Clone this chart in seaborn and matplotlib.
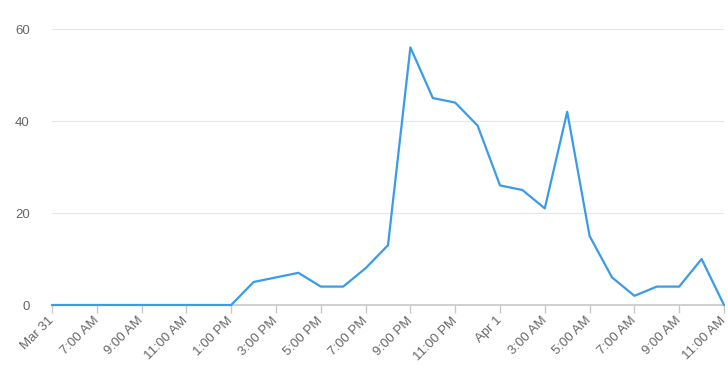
import matplotlib
matplotlib.use("Agg")
import matplotlib.pyplot as plt
import seaborn as sns
import pandas as pd

hours = list(range(31))  # hourly points starting at the "Mar 31" tick
values = [0, 0, 0, 0, 0, 0, 0, 0, 0,
          5, 6, 7, 4, 4, 8, 13, 56, 45, 44,
          39, 26, 25, 21, 42, 15, 6, 2, 4, 4, 10, 0]
tick_hours = list(range(0, 31, 2))
tick_labels = ["Mar 31", "7:00 AM", "9:00 AM", "11:00 AM", "1:00 PM", "3:00 PM",
               "5:00 PM", "7:00 PM", "9:00 PM", "11:00 PM", "Apr 1", "3:00 AM",
               "5:00 AM", "7:00 AM", "9:00 AM", "11:00 AM"]
y_ticks = [0, 20, 40, 60]

df = pd.DataFrame({"hour": hours, "value": values})

sns.set_theme(style="white")
plt.rcParams["font.family"] = ["Liberation Sans", "DejaVu Sans"]

fig = plt.figure(figsize=(7.28, 3.72), dpi=100)
ax = fig.add_axes([52 / 728, 1 - 305 / 372, (724 - 52) / 728, (305 - 29) / 372])

sns.lineplot(data=df, x="hour", y="value", ax=ax, color="#3a9beb", linewidth=1.6,
             clip_on=False)

ax.set_xlim(0, 30)
ax.set_ylim(0, 60)
ax.set_yticks(y_ticks)
ax.set_yticklabels([str(v) for v in y_ticks])
ax.set_xticks(tick_hours)
ax.set_xticklabels(tick_labels, rotation=45, ha="right", va="center",
                   rotation_mode="anchor")

ax.grid(axis="y", color="#e6e6e6", linewidth=0.8)
ax.grid(axis="x", visible=False)
ax.set_axisbelow(True)
for side in ["top", "right", "left"]:
    ax.spines[side].set_visible(False)
ax.spines["bottom"].set_color("#c8c8c8")
ax.spines["bottom"].set_linewidth(1.2)
ax.spines["bottom"].set_zorder(1)

ax.tick_params(axis="x", which="both", bottom=True, length=6, width=1, color="#c8c8c8",
               labelsize=9.5, labelcolor="#666666", pad=4)
ax.tick_params(axis="y", length=0, labelsize=9.5, labelcolor="#666666", pad=16)
ax.set_xlabel("")
ax.set_ylabel("")

fig.savefig("out.png", dpi=100)
